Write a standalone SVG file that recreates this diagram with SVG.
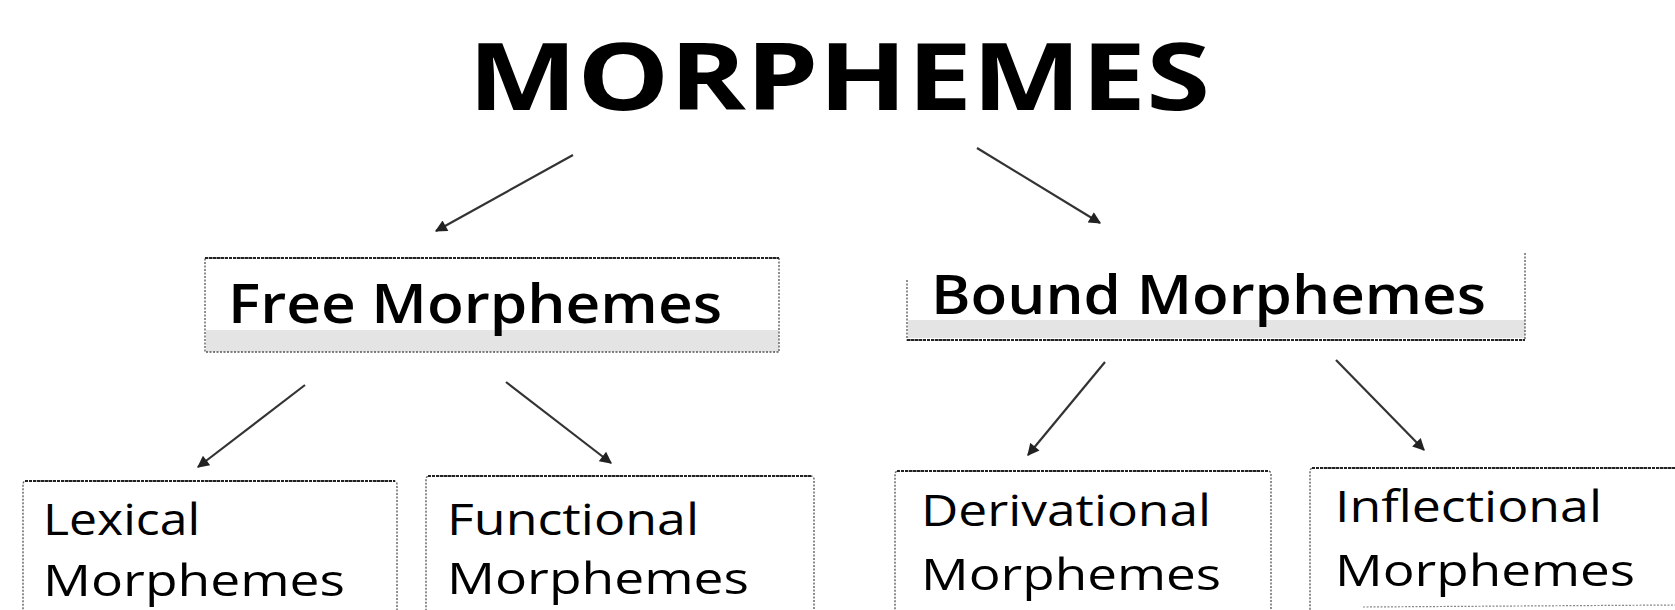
<svg xmlns="http://www.w3.org/2000/svg" width="1675" height="610" viewBox="0 0 1675 610">
<style>
.title{font-family:"Open Sans","Liberation Sans",sans-serif;font-weight:700;font-size:94px;fill:#000}
.mid{font-family:"Open Sans","Liberation Sans",sans-serif;font-weight:600;font-size:54px;fill:#000}
.low{font-family:"Open Sans","Liberation Sans",sans-serif;font-weight:500;font-size:44px;fill:#000}
.box{fill:none;stroke:#555;stroke-width:1.3;stroke-dasharray:2 1.5}
.topline{stroke:#222;stroke-width:1.8;stroke-dasharray:3 1}
.band{fill:#e4e4e4}
.conn line{stroke:#333;stroke-width:2.2}
</style>
<defs>
<marker id="ah" viewBox="0 0 10 10" refX="9" refY="5" markerWidth="14" markerHeight="12" markerUnits="userSpaceOnUse" orient="auto">
<path d="M0,0 L10,5 L0,10 z" fill="#222"/>
</marker>
</defs>
<rect width="1675" height="610" fill="#fff"/>

<g id="title">
<text class="title" x="468" y="110" textLength="742" lengthAdjust="spacingAndGlyphs">MORPHEMES</text>
</g>

<g id="free">
<rect class="band" x="206" y="330" width="573" height="22"/>
<rect class="box" x="205" y="258" width="574" height="94"/>
<line class="topline" x1="205" y1="258" x2="779" y2="258"/>
<text class="mid" x="228" y="323" textLength="494" lengthAdjust="spacingAndGlyphs">Free Morphemes</text>
</g>

<g id="bound">
<rect class="band" x="908" y="320" width="617" height="18"/>
<path class="box" d="M907,280 V340 H1525 V253"/>
<line class="topline" x1="907" y1="340" x2="1525" y2="340"/>
<text class="mid" x="931" y="314" textLength="555" lengthAdjust="spacingAndGlyphs">Bound Morphemes</text>
</g>

<g id="lexical">
<rect class="box" x="23" y="481" width="374" height="140" rx="3"/>
<line class="topline" x1="25" y1="481" x2="395" y2="481"/>
<text class="low" x="43" y="535" textLength="157" lengthAdjust="spacingAndGlyphs">Lexical</text>
<text class="low" x="43" y="596" textLength="302" lengthAdjust="spacingAndGlyphs">Morphemes</text>
</g>

<g id="functional">
<rect class="box" x="426" y="476" width="388" height="145" rx="3"/>
<line class="topline" x1="428" y1="476" x2="812" y2="476"/>
<text class="low" x="447" y="535" textLength="252" lengthAdjust="spacingAndGlyphs">Functional</text>
<text class="low" x="447" y="594" textLength="302" lengthAdjust="spacingAndGlyphs">Morphemes</text>
</g>

<g id="derivational">
<rect class="box" x="895" y="471" width="376" height="150" rx="3"/>
<line class="topline" x1="897" y1="471" x2="1269" y2="471"/>
<text class="low" x="921" y="526" textLength="290" lengthAdjust="spacingAndGlyphs">Derivational</text>
<text class="low" x="921" y="590" textLength="300" lengthAdjust="spacingAndGlyphs">Morphemes</text>
</g>

<g id="inflectional">
<rect class="box" x="1310" y="468" width="380" height="160" rx="3"/>
<line class="topline" x1="1312" y1="468" x2="1675" y2="468"/>
<text class="low" x="1335" y="522" textLength="267" lengthAdjust="spacingAndGlyphs">Inflectional</text>
<text class="low" x="1335" y="586" textLength="300" lengthAdjust="spacingAndGlyphs">Morphemes</text>
<line x1="1363" y1="607" x2="1675" y2="605" stroke="#888" stroke-width="1.2" stroke-dasharray="2 1.5"/>
</g>

<g id="connectors" class="conn">
<line x1="573" y1="155" x2="436" y2="231" marker-end="url(#ah)"/>
<line x1="977" y1="148" x2="1100" y2="223" marker-end="url(#ah)"/>
<line x1="305" y1="385" x2="198" y2="467" marker-end="url(#ah)"/>
<line x1="506" y1="382" x2="611" y2="463" marker-end="url(#ah)"/>
<line x1="1105" y1="362" x2="1028" y2="455" marker-end="url(#ah)"/>
<line x1="1336" y1="360" x2="1424" y2="450" marker-end="url(#ah)"/>
</g>
</svg>
